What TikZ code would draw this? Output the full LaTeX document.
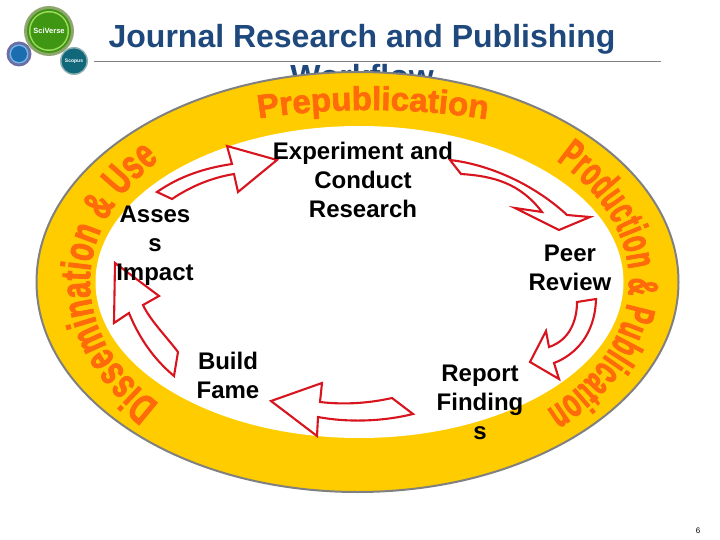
\documentclass[tikz,border=0pt]{standalone}
\usepackage{fontspec}
\setmainfont{Liberation Sans}
\newfontface\preface[FakeBold=2]{Liberation Sans Bold}
\newfontface\prodface[FakeBold=2,FakeStretch=0.58]{Liberation Sans Bold}
\newfontface\dissface[FakeBold=2,FakeStretch=0.68]{Liberation Sans Bold}
\usetikzlibrary{decorations.text}
\definecolor{titleblue}{HTML}{1F497D}
\definecolor{ringyellow}{HTML}{FFCC00}
\definecolor{ringorange}{HTML}{FF6A0A}
\definecolor{arrowred}{HTML}{D8141E}
\definecolor{sciouter}{HTML}{8FA76F}
\definecolor{scigreen}{HTML}{3F9612}
\definecolor{scilight}{HTML}{A0DC60}
\definecolor{bluouter}{HTML}{6B6FA5}
\definecolor{blulight}{HTML}{6FB8E8}
\definecolor{bluinner}{HTML}{1C6CB0}
\definecolor{scoouter}{HTML}{8FB0B0}
\definecolor{scoteal}{HTML}{10687A}
\tikzset{ringlabel/.style 2 args={decorate,decoration={text along path,text={|#1\color{ringorange}|#2},text align={fit to path}}}}
\begin{document}
\begin{tikzpicture}[x=1pt,y=-1pt]
\tikzstyle{step label}=[align=center,inner sep=0pt,font=\fontsize{24}{29}\selectfont\bfseries]
\tikzstyle{cycle arrow}=[draw=arrowred,fill=white,line width=2.1pt,line join=miter]
\tikzstyle{logo}=[circle,inner sep=0pt,text=white,font=\bfseries]
\useasboundingbox (0,0) rectangle (720,540);
\fill[white] (0,0) rectangle (720,540);
\node[inner sep=0pt,align=center,text=titleblue,font=\fontsize{32}{40}\selectfont\bfseries] (title) at (362,56) {Journal Research and Publishing\\Workflow};
\coordinate (ruleleft) at (94,61);
\coordinate (ruleright) at (661,61);
\draw[gray,line width=0.8pt] (ruleleft) -- (ruleright);
\coordinate (outerc) at (357.5,282);
\coordinate (innerc) at (359.5,282);
\draw[fill=ringyellow,draw=gray,line width=2pt] (outerc) ellipse [x radius=321,y radius=210];
\fill[white] (innerc) ellipse [x radius=264,y radius=156];
\begin{scope}[y=1pt,yshift=-282pt]
\path[ringlabel={\preface\fontsize{33}{33}\selectfont}{Prepublication}] (370,0) ++(108:360 and 172) arc[start angle=108,end angle=72,x radius=360,y radius=172];
\path[ringlabel={\prodface\fontsize{42}{42}\selectfont}{Production {\&} Publication}] (359,0) ++(43:270 and 178) arc[start angle=43,end angle=-46,x radius=270,y radius=178];
\path[ringlabel={\dissface\fontsize{42}{42}\selectfont}{Dissemination {\&} Use}] (359,0) ++(222:269 and 182) arc[start angle=222,end angle=138,x radius=269,y radius=182];
\end{scope}
\draw[cycle arrow] (157,192) .. controls (180,176) and (205,168) .. (232,164) -- (227,146) -- (277,160) -- (238,192) -- (234,174) .. controls (210,178) and (190,187) .. (172,199) -- cycle;
\draw[cycle arrow] (450,160) .. controls (493,165) and (537,187) .. (567,215) -- (590,217) -- (559,230) -- (515,208) -- (542,212) .. controls (520,183) and (493,176) .. (461,174) -- cycle;
\draw[cycle arrow] (596,299) .. controls (595,335) and (575,355) .. (554,363) -- (559,379) -- (530,362) -- (546,331) -- (549,347) .. controls (570,340) and (577,320) .. (577,302) -- cycle;
\draw[cycle arrow] (413,414) .. controls (385,421) and (350,423) .. (318,417) -- (317,436) -- (271,401) -- (322,383) -- (320,402) .. controls (345,405) and (370,403) .. (392,398) -- cycle;
\draw[cycle arrow] (174,376) .. controls (155,360) and (140,340) .. (129,313) -- (114,323) -- (115,263) -- (159,296) -- (143,305) .. controls (150,320) and (165,335) .. (178,352) -- cycle;
\foreach \name/\point/\words in {
	experiment/{363,180}/{Experiment and\\Conduct\\Research},
	assess/{155,246}/{Asses\\s\\Impact},
	peer/{570,268}/{Peer\\Review},
	build/{228,375}/{Build\\Fame},
	report/{480,402}/{Report\\Finding\\s}}
	\node[step label] (\name) at (\point) {\words};
\foreach \name/\point/\size/\col in {
	sciring/{49,31}/50/sciouter,
	scimid/{49,31}/44/scigreen,
	scithin/{49,31}/40/scilight,
	bluring/{19,54}/25/bluouter,
	blumid/{19,54}/19/blulight,
	scoring/{74,61}/28/scoouter}
	\node[circle,inner sep=0pt,minimum size=\size pt,fill=\col] (\name) at (\point) {};
\node[logo,minimum size=37pt,fill=scigreen,font=\fontsize{7.5}{9}\selectfont\bfseries] (sciverse) at (49,31) {SciVerse};
\node[logo,minimum size=16pt,fill=bluinner] (blue) at (19,54) {};
\node[logo,minimum size=25pt,fill=scoteal,font=\fontsize{5}{6}\selectfont\bfseries] (scopus) at (74,61) {Scopus};
\node[inner sep=0pt,font=\fontsize{8}{10}\selectfont] (pageno) at (698,531) {6};
\end{tikzpicture}
\end{document}
